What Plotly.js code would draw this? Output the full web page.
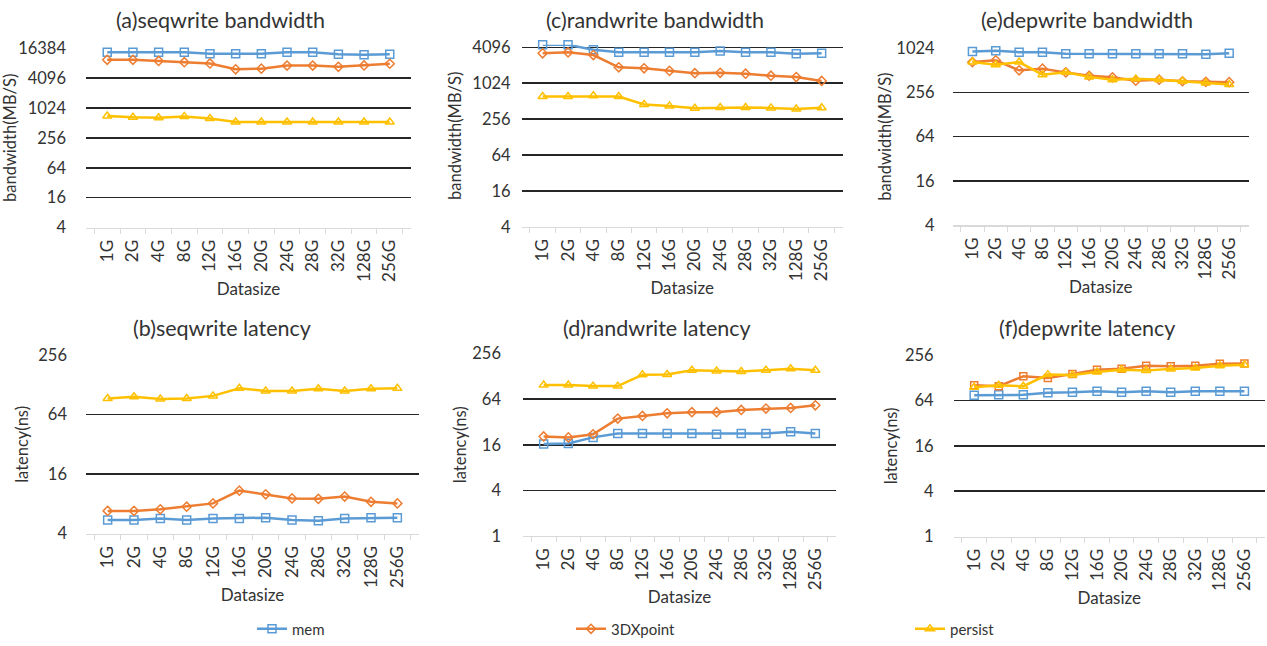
<!DOCTYPE html>
<html>
<head>
<meta charset="utf-8">
<script src="https://cdn.plot.ly/plotly-3.0.1.min.js"></script>
<style>html,body{margin:0;padding:0;background:#fff;}#chart{width:1267px;height:646px;}</style>
</head>
<body>
<div id="chart"></div>
<script>
// ---------- data ----------
const categories = ['1G','2G','4G','8G','12G','16G','20G','24G','28G','32G','128G','256G'];
const seriesNames = ['mem','3DXpoint','persist'];

// (a) seqwrite bandwidth (MB/S)
const seqBwMem     = [13500,13500,13500,13500,12500,12500,12500,13500,13500,12300,12000,12300];
const seqBw3DX     = [9500,9500,9000,8500,8000,6100,6300,7250,7250,6850,7300,7900];
const seqBwPersist = [700,660,650,690,625,530,530,530,530,530,530,530];
// (c) randwrite bandwidth (MB/S)
const randBwMem     = [4500,4500,3730,3370,3370,3370,3370,3550,3370,3370,3200,3250];
const randBw3DX     = [3250,3370,3040,1890,1820,1650,1510,1530,1480,1370,1300,1120];
const randBwPersist = [612,612,630,612,450,427,391,400,400,395,378,398];
// (e) depwrite bandwidth (MB/S)
const depBwMem     = [920,940,900,900,855,855,855,855,855,855,840,870];
const depBw3DX     = [660,697,509,537,478,430,409,369,380,362,355,352];
const depBwPersist = [660,606,660,445,478,415,380,390,380,362,343,326];
// (b) seqwrite latency (ns)
const seqLatMem     = [5.5,5.5,5.7,5.5,5.7,5.7,5.8,5.5,5.4,5.7,5.8,5.8];
const seqLat3DX     = [6.8,6.8,7.05,7.5,8.1,10.9,10,9.1,9.0,9.5,8.4,8.1];
const seqLatPersist = [93,97,92,93,99,118,111,111,117,111,117,118];
// (d) randwrite latency (ns)
const randLatMem     = [16.3,16.6,20,22.5,22.5,22.5,22.5,22,22.5,22.5,23.7,22.5];
const randLat3DX     = [20.6,20,22,35.4,38.4,41.6,43,43,46,48,49,53];
const randLatPersist = [98,98,95,95,134,135,154,150,148,154,161,154];
// (f) depwrite latency (ns)
const depLatMem     = [75,76,76,81,82,85,82,85,82,85,85,85];
const depLat3DX     = [102,99,134,127,144,164,169,185,182,185,197,198];
const depLatPersist = [96,102,99,141,139,153,164,160,168,172,185,190];

const bwTicks  = [4,16,64,256,1024,4096,16384];
const latTicks = [1,4,16,64,256];

const panelTitles = ['(a)seqwrite bandwidth','(c)randwrite bandwidth','(e)depwrite bandwidth',
                     '(b)seqwrite latency','(d)randwrite latency','(f)depwrite latency'];
const yTitles = ['bandwidth(MB/S)','bandwidth(MB/S)','bandwidth(MB/S)','latency(ns)','latency(ns)','latency(ns)'];
const xTitle = 'Datasize';

// ---------- styling / layout ----------
const W = 1267, H = 646;
const colors = ['#5B9BD5','#ED7D31','#FFC000'];
const panels = [
  {data:[seqBwMem,seqBw3DX,seqBwPersist],  x:[86,411],   y:[48.3,229],  range:[4,16384], ticks:bwTicks, title:[221,20], ytStand:4, tls:19, sym3:'diamond-open'},
  {data:[randBwMem,randBw3DX,randBwPersist],x:[521.6,842.7],y:[45,228.3],range:[4,4096*1.105],ticks:bwTicks, title:[655,20], ytStand:6, tls:10, sym3:'diamond-open'},
  {data:[depBwMem,depBw3DX,depBwPersist],  x:[952.6,1249],y:[48.3,226.7],range:[4,1024], ticks:bwTicks, title:[1087,20], ytStand:0, tls:17, sym3:'diamond-open'},
  {data:[seqLatMem,seqLat3DX,seqLatPersist],x:[86,419],   y:[357.3,537], range:[4,256],   ticks:latTicks, title:[222,330], ytStand:5, tls:18, sym3:'diamond-open'},
  {data:[randLatMem,randLat3DX,randLatPersist],x:[523,836],y:[355.7,539.3],range:[1,256], ticks:latTicks, title:[657,330], ytStand:1, tls:21, sym3:'diamond-open'},
  {data:[depLatMem,depLat3DX,depLatPersist],x:[953.6,1265],y:[357.3,540], range:[1,256],   ticks:latTicks, title:[1087,330], ytStand:3, tls:19, sym3:'square-open'}
];
const symbols = ['square-open', null, 'triangle-up-open'];
const legendNames = ['legend','legend2','legend3'];
const legendX = [252, 571, 910];

const traces = [];
const layout = {
  width: W, height: H,
  margin: {l:0, r:0, t:0, b:0},
  paper_bgcolor: '#fff', plot_bgcolor: 'rgba(0,0,0,0)',
  font: {family: 'Lato, "Open Sans", sans-serif', color: '#333', size: 16},
  showlegend: true,
  annotations: []
};
legendNames.forEach((ln, k) => {
  layout[ln] = {orientation:'h', x: legendX[k]/W, xanchor:'left', y: 1-633/H, yanchor:'middle',
                font:{size:15, color:'#333'}, itemwidth: 30, bgcolor:'rgba(0,0,0,0)'};
});

panels.forEach((p, i) => {
  const n = i + 1;
  const xa = 'x' + (n === 1 ? '' : n), ya = 'y' + (n === 1 ? '' : n);
  p.data.forEach((vals, s) => {
    traces.push({
      type: 'scatter', mode: 'lines+markers',
      x: categories, y: vals, name: seriesNames[s],
      xaxis: xa, yaxis: ya, showlegend: i === 0, legendgroup: seriesNames[s],
      legend: legendNames[s],
      cliponaxis: false,
      line: {color: colors[s], width: 2.5},
      marker: {symbol: s === 1 ? p.sym3 : symbols[s], size: s === 1 ? 7 : 8, color: colors[s],
               line: {color: colors[s], width: 1.5}}
    });
  });
  const tv = p.ticks.filter(t => t >= p.range[0] && t <= p.range[1] * 1.0001);
  layout['xaxis' + (n === 1 ? '' : n)] = {
    domain: [p.x[0]/W, p.x[1]/W], anchor: ya, type: 'category',
    showline: true, linecolor: '#d9d9d9', linewidth: 1.5,
    ticks: 'outside', tickson: 'boundaries', ticklen: 5, tickcolor: '#d9d9d9', tickwidth: 1,
    tickangle: -90, tickfont: {size: 17, color: '#333'}, ticklabelstandoff: 4,
    showgrid: false, zeroline: false, fixedrange: true,
    title: {text: xTitle, font: {size: 17, color: '#333'}, standoff: 2}
  };
  layout['yaxis' + (n === 1 ? '' : n)] = {
    domain: [1 - p.y[1]/H, 1 - p.y[0]/H], anchor: xa, type: 'log',
    range: [Math.log10(p.range[0]), Math.log10(p.range[1])],
    tickmode: 'array', tickvals: tv, ticktext: tv.map(String),
    showgrid: true, gridcolor: '#262626', gridwidth: 1.6,
    showline: false, ticks: '', ticklabelstandoff: p.tls,
    tickfont: {size: 16.5, color: '#333'}, zeroline: false, fixedrange: true,
    title: {text: yTitles[i], font: {size: 16.5, color: '#333'}, standoff: p.ytStand}
  };
  layout.annotations.push({
    xref: 'paper', yref: 'paper', x: p.title[0]/W, y: 1 - p.title[1]/H,
    xanchor: 'center', yanchor: 'middle', showarrow: false,
    text: panelTitles[i], font: {size: 21.5, color: '#333'}
  });
});

Plotly.newPlot('chart', traces, layout, {staticPlot: true, displayModeBar: false});
</script>
</body>
</html>
